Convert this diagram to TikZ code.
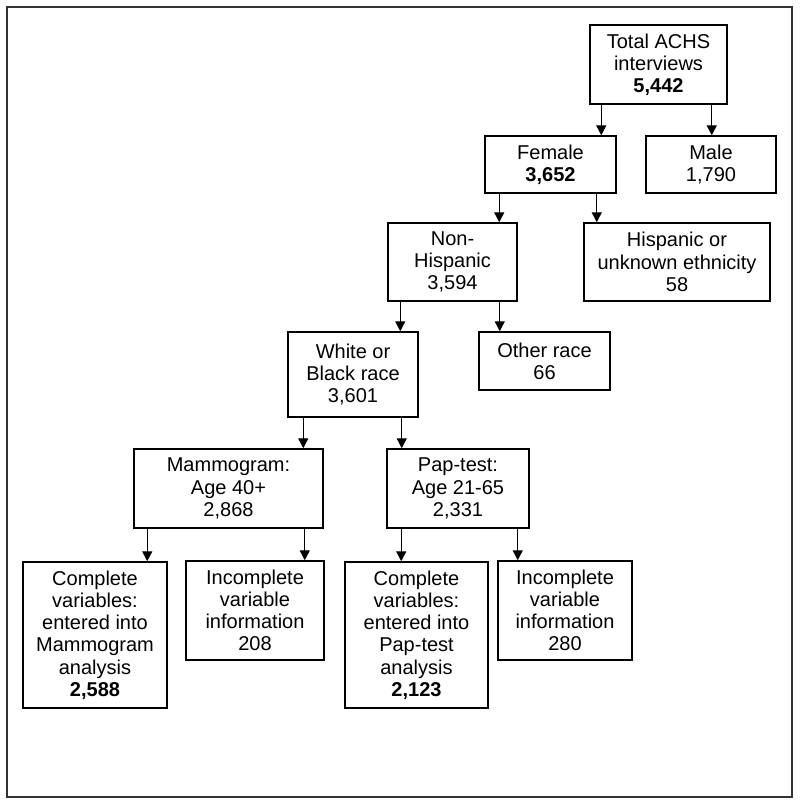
\documentclass[tikz,border=0pt]{standalone}
\usepackage{fontspec}
\setmainfont{Liberation Sans}
\usetikzlibrary{arrows.meta,positioning,calc}

\begin{document}
\begin{tikzpicture}[
  x=1pt, y=1pt,
  >={Triangle[width=10pt,length=10pt]},
  box/.style={
    rectangle, draw=black, line width=1.5pt, inner sep=0pt,
    font=\fontsize{20}{22.2}\selectfont, align=center
  },
  flow/.style={->, line width=1.4pt}
]

% Frame
\useasboundingbox (0,0) rectangle (800,-806);
\draw[line width=2pt, black!80] (7,-7) rectangle (792,-797);

% Level 1-2
\node[box, minimum width=137pt, minimum height=79pt] (total) at (658.5,-64.5)
     {Total ACHS\\interviews\\\textbf{5,442}};
\node[box, minimum width=131pt, minimum height=57pt] (female) at (550.5,-164.5)
     {Female\\\textbf{3,652}};
\node[box, minimum width=130pt, minimum height=57pt] (male) at (711,-164.5)
     {Male\\1,790};

% Level 3
\node[box, minimum width=129pt, minimum height=78pt] (nonhisp) at (452.5,-262)
     {Non-\\Hispanic\\3,594};
\node[box, minimum width=186pt, minimum height=78pt] (hisp) at (677,-262)
     {Hispanic or\\unknown ethnicity\\58};

% Level 4
\node[box, minimum width=130pt, minimum height=85pt] (race) at (353,-374.5)
     {White or\\Black race\\3,601};
\node[box, minimum width=131pt, minimum height=58pt] (other) at (544.5,-361)
     {Other race\\66};

% Level 5
\node[box, minimum width=189pt, minimum height=79pt] (mammo) at (228.5,-488.5)
     {Mammogram:\\Age 40+\\2,868};
\node[box, minimum width=142pt, minimum height=79pt] (pap) at (458,-488.5)
     {Pap-test:\\Age 21-65\\2,331};

% Level 6
\node[box, minimum width=144pt, minimum height=146pt] (mcomp) at (95,-635)
     {Complete\\variables:\\entered into\\Mammogram\\analysis\\\textbf{2,588}};
\node[box, minimum width=138pt, minimum height=99pt] (minc) at (255,-610.5)
     {Incomplete\\variable\\information\\208};
\node[box, minimum width=143pt, minimum height=146pt] (pcomp) at (416.5,-635)
     {Complete\\variables:\\entered into\\Pap-test\\analysis\\\textbf{2,123}};
\node[box, minimum width=134pt, minimum height=99pt] (pinc) at (565,-610.5)
     {Incomplete\\variable\\information\\280};

% Arrows
\draw[flow] ([xshift=12pt]total.south west) -- ([xshift=12pt]total.south west |- female.north);
\draw[flow] ([xshift=-16pt]total.south east) -- ([xshift=-16pt]total.south east |- male.north);
\draw[flow] ([xshift=15pt]female.south west) -- ([xshift=15pt]female.south west |- nonhisp.north);
\draw[flow] ([xshift=-20pt]female.south east) -- ([xshift=-20pt]female.south east |- hisp.north);
\draw[flow] ([xshift=13pt]nonhisp.south west) -- ([xshift=13pt]nonhisp.south west |- race.north);
\draw[flow] ([xshift=-18pt]nonhisp.south east) -- ([xshift=-18pt]nonhisp.south east |- other.north);
\draw[flow] ([xshift=16pt]race.south west) -- ([xshift=16pt]race.south west |- mammo.north);
\draw[flow] ([xshift=-17pt]race.south east) -- ([xshift=-17pt]race.south east |- pap.north);
\draw[flow] ([xshift=14pt]mammo.south west) -- ([xshift=14pt]mammo.south west |- mcomp.north);
\draw[flow] ([xshift=-19pt]mammo.south east) -- ([xshift=-19pt]mammo.south east |- minc.north);
\draw[flow] ([xshift=15pt]pap.south west) -- ([xshift=15pt]pap.south west |- pcomp.north);
\draw[flow] ([xshift=-12pt]pap.south east) -- ([xshift=-12pt]pap.south east |- pinc.north);

\end{tikzpicture}
\end{document}
